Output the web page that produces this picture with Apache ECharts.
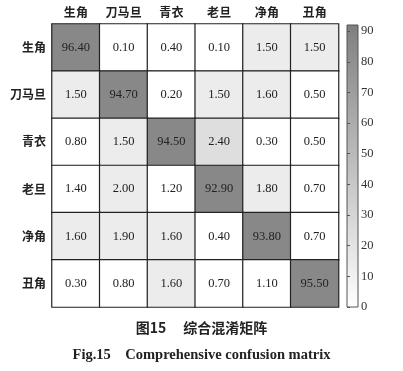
<!DOCTYPE html>
<html><head><meta charset="utf-8">
<script src="https://cdn.jsdelivr.net/npm/echarts@6/dist/echarts.min.js"></script>
<style>html,body{margin:0;padding:0;background:#fff;}#c{width:403px;height:371px;}</style>
</head><body><div id="c"></div>
<script>
var categories = ['生角', '刀马旦', '青衣', '老旦', '净角', '丑角'];
var row0 = [96.40, 0.10, 0.40, 0.10, 1.50, 1.50];
var row1 = [1.50, 94.70, 0.20, 1.50, 1.60, 0.50];
var row2 = [0.80, 1.50, 94.50, 2.40, 0.30, 0.50];
var row3 = [1.40, 2.00, 1.20, 92.90, 1.80, 0.70];
var row4 = [1.60, 1.90, 1.60, 0.40, 93.80, 0.70];
var row5 = [0.30, 0.80, 1.60, 0.70, 1.10, 95.50];
var colorbarTicks = [0, 10, 20, 30, 40, 50, 60, 70, 80, 90];

var rows = [row0, row1, row2, row3, row4, row5];
var data = [];
rows.forEach(function (r, i) { r.forEach(function (v, j) { data.push([j, i, v]); }); });

var serif = '"Liberation Serif", "DejaVu Serif", serif';
var cjk = '"Noto Sans CJK SC", sans-serif';
var chart = echarts.init(document.getElementById('c'));
chart.setOption({
  backgroundColor: '#fff',
  animation: false,
  title: [
    { text: '图15　 综合混淆矩阵', left: 'center', top: 316,
      textStyle: { fontFamily: cjk, fontSize: 14, fontWeight: 'bold', color: '#222' } },
    { text: 'Fig.15    Comprehensive confusion matrix', left: 'center', top: 343,
      textStyle: { fontFamily: serif, fontSize: 14.5, fontWeight: 'bold', color: '#222' } }
  ],
  grid: [
    { left: 52, top: 24, width: 286.5, height: 283, show: false },
    { left: 347, top: 25, width: 11, height: 282, show: true, borderColor: '#555', borderWidth: 1,
      backgroundColor: new echarts.graphic.LinearGradient(0, 0, 0, 1, [
        { offset: 0, color: '#7f7f7f' }, { offset: 1, color: '#ffffff' }]) }
  ],
  xAxis: [
    { type: 'category', data: categories, position: 'top', gridIndex: 0,
      axisLine: { show: false }, axisTick: { show: false }, splitLine: { show: false },
      axisLabel: { fontFamily: cjk, fontSize: 12, fontWeight: 'bold', color: '#222', margin: 6 } },
    { type: 'value', gridIndex: 1, show: false, min: 0, max: 1 }
  ],
  yAxis: [
    { type: 'category', data: categories, inverse: true, gridIndex: 0,
      axisLine: { show: false }, axisTick: { show: false }, splitLine: { show: false },
      axisLabel: { fontFamily: cjk, fontSize: 12, fontWeight: 'bold', color: '#222', margin: 6 } },
    { type: 'value', gridIndex: 1, position: 'right', min: 0, max: 92, interval: 10,
      axisLine: { show: false }, splitLine: { show: false },
      axisTick: { show: true, length: 3, inside: false, lineStyle: { color: '#555' } },
      axisLabel: { fontFamily: serif, fontSize: 12.5, color: '#333', margin: 3, showMaxLabel: false,
        formatter: function (v) { return colorbarTicks.indexOf(v) >= 0 ? String(v) : ''; } } }
  ],
  visualMap: [
    { type: 'piecewise', show: false, seriesIndex: 0, dimension: 2,
      pieces: [
        { lt: 1.45, color: '#ffffff' },
        { gte: 1.45, lt: 2.2, color: '#ececec' },
        { gte: 2.2, lt: 50, color: '#dedede' },
        { gte: 50, color: '#888888' }
      ] }
  ],
  series: [
    { type: 'heatmap', xAxisIndex: 0, yAxisIndex: 0, data: data,
      itemStyle: { borderColor: '#222', borderWidth: 1.2 },
      label: { show: true, fontFamily: serif, fontSize: 12.5, color: '#222',
        formatter: function (p) { return p.value[2].toFixed(2); } } }
  ]
});
</script></body></html>
